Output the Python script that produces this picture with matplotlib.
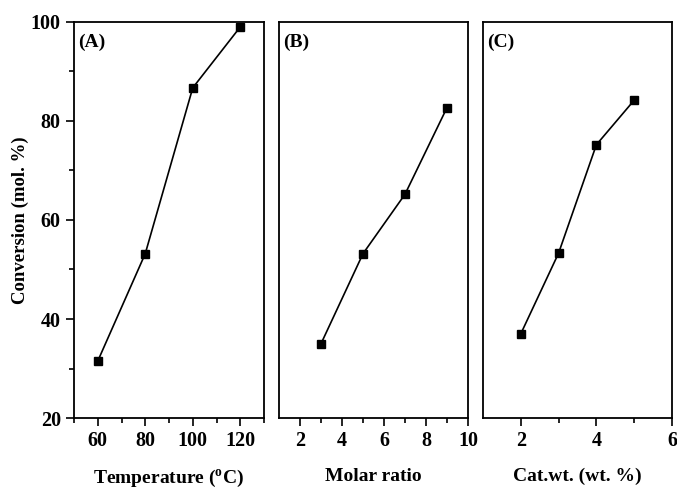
import matplotlib.pyplot as plt
from matplotlib.ticker import MultipleLocator, FixedLocator

plt.rcParams['font.family'] = ['Liberation Serif', 'DejaVu Serif']
plt.rcParams['font.weight'] = 'bold'

temp = [60, 80, 100, 120]
conv_temp = [31.5, 53.2, 86.7, 99.0]

molar = [3, 5, 7, 9]
conv_molar = [35.0, 53.2, 65.2, 82.7]

catwt = [2, 3, 4, 5]
conv_cat = [37.0, 53.3, 75.2, 84.2]

fig = plt.figure(figsize=(6.77, 4.88), dpi=100)
bottom, top = 0.1434, 0.955
boxes = [(0.1093, 0.3900), (0.4121, 0.6913), (0.7134, 0.9926)]

panels = [
    (temp, conv_temp, (50, 130), 'Temperature ($\\mathregular{^o}$C)', '(A)'),
    (molar, conv_molar, (1, 10), 'Molar ratio', '(B)'),
    (catwt, conv_cat, (1, 6), 'Cat.wt. (wt. %)', '(C)'),
]
major_ticks = [[60, 80, 100, 120], [2, 4, 6, 8, 10], [2, 4, 6]]
minor_ticks = [[50, 70, 90, 110, 130], [3, 5, 7, 9], [3, 5]]

for i, (x, y, xlim, xlabel, tag) in enumerate(panels):
    l, r = boxes[i]
    ax = fig.add_axes([l, bottom, r - l, top - bottom])
    ax.plot(x, y, color='black', lw=1.2, marker='s', ms=6, mfc='black', mec='black')
    ax.set_xlim(*xlim)
    ax.set_ylim(20, 100)
    ax.xaxis.set_major_locator(FixedLocator(major_ticks[i]))
    ax.xaxis.set_minor_locator(FixedLocator(minor_ticks[i]))
    ax.yaxis.set_major_locator(MultipleLocator(20))
    ax.yaxis.set_minor_locator(MultipleLocator(10))
    ax.tick_params(which='major', direction='out', length=6, width=1.2, labelsize=14.5)
    ax.tick_params(which='minor', direction='out', length=3.5, width=1.2)
    for s in ax.spines.values():
        s.set_linewidth(1.3)
    ax.set_xlabel(xlabel, fontsize=14, fontweight='bold', labelpad=12)
    ax.text(0.02, 0.97, tag, transform=ax.transAxes, ha='left', va='top',
            fontsize=14, fontweight='bold')
    if i == 0:
        ax.set_ylabel('Conversion (mol. %)', fontsize=13.5, fontweight='bold', labelpad=1)
    else:
        ax.tick_params(axis='y', which='both', left=False, labelleft=False)

fig.savefig('out.png', dpi=100)
